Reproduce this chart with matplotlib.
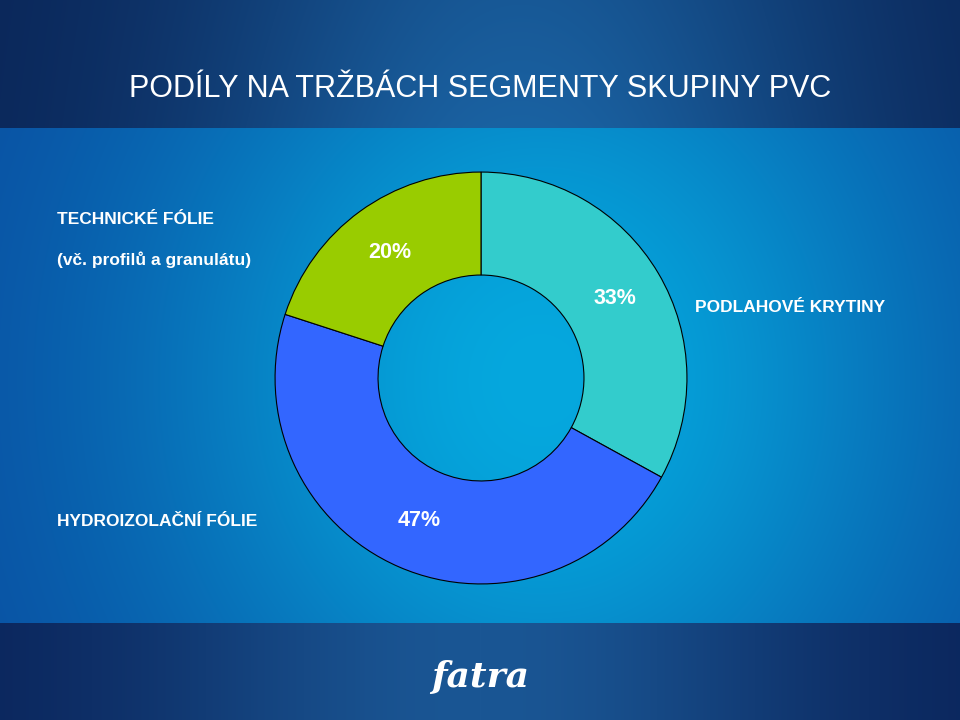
import numpy as np
import matplotlib
matplotlib.use("Agg")
import matplotlib.pyplot as plt
from matplotlib.colors import to_rgb

# ---- data ----
categories = ["PODLAHOVÉ KRYTINY", "HYDROIZOLAČNÍ FÓLIE", "TECHNICKÉ FÓLIE\n(vč. profilů a granulátu)"]
shares = [33, 47, 20]
slice_colors = ["#33CCCC", "#3366FF", "#99CC00"]
title = "PODÍLY NA TRŽBÁCH SEGMENTY SKUPINY PVC"

W, H = 960, 720
fig = plt.figure(figsize=(W / 100, H / 100), dpi=100)

# ---- background ----
bg = fig.add_axes([0, 0, 1, 1])
bg.set_axis_off()
yy, xx = np.mgrid[0:H, 0:W].astype(float)
img = np.zeros((H, W, 3))

def blend(c_edge, c_center, t):
    a = np.array(to_rgb(c_edge)); b = np.array(to_rgb(c_center))
    return a[None, None, :] * (1 - t[..., None]) + b[None, None, :] * t[..., None]

t_top = np.exp(-((xx - 520) / 330) ** 2) * (0.85 + 0.15 * (yy / 128))
top = blend("#0a2456", "#1a62a2", np.clip(t_top, 0, 1))
t_mid = np.exp(-((xx - 540) / 400) ** 2 - ((yy - 380) / 450) ** 2)
mid = blend("#0a4a9e", "#05a8de", np.clip(t_mid, 0, 1))
t_bot = np.exp(-((xx - 480) / 330) ** 2)
bot = blend("#0a2258", "#1a5694", np.clip(t_bot, 0, 1))

img[:] = mid
img[yy < 128] = top[yy < 128]
img[yy >= 623] = bot[yy >= 623]
bg.imshow(img, extent=[0, W, H, 0], aspect="auto", interpolation="bilinear")
bg.set_xlim(0, W); bg.set_ylim(H, 0)

font = ["Liberation Sans", "DejaVu Sans"]

# ---- title ----
fig.text(480 / W, 1 - 89 / H, title, color="white", fontsize=22,
         family=font, ha="center", va="center")

# ---- donut ----
cx, cy, r = 481, 378, 208
ax = fig.add_axes([(cx - r) / W, (H - cy - r) / H, 2 * r / W, 2 * r / H])
ax.set_axis_off()
wedges, texts, autotexts = ax.pie(
    shares, colors=slice_colors, startangle=90, counterclock=False,
    radius=1.0, autopct="%d%%", pctdistance=0.755,
    wedgeprops=dict(width=0.5, edgecolor="black", linewidth=0.8),
    textprops=dict(color="white", fontsize=15.5, family=font, fontweight="bold"))
ax.set_xlim(-1.01, 1.01); ax.set_ylim(-1.01, 1.01)
ax.set_aspect("equal")

# ---- category labels ----
lab_kw = dict(color="white", fontsize=12.5, family=font, fontweight="bold",
              ha="left", va="center")
fig.text(695 / W, 1 - 308 / H, categories[0], **lab_kw)
fig.text(57 / W, 1 - 521 / H, categories[1], **lab_kw)
tl = categories[2].split("\n")
fig.text(57 / W, 1 - 219 / H, tl[0], **lab_kw)
fig.text(57 / W, 1 - 260 / H, tl[1], **lab_kw)

# ---- logo ----
fig.text(480 / W, 1 - 677 / H, "fatra", color="white", fontsize=26,
         family="DejaVu Serif", fontweight="bold", style="italic",
         ha="center", va="center")

fig.savefig("out.png", dpi=100)
